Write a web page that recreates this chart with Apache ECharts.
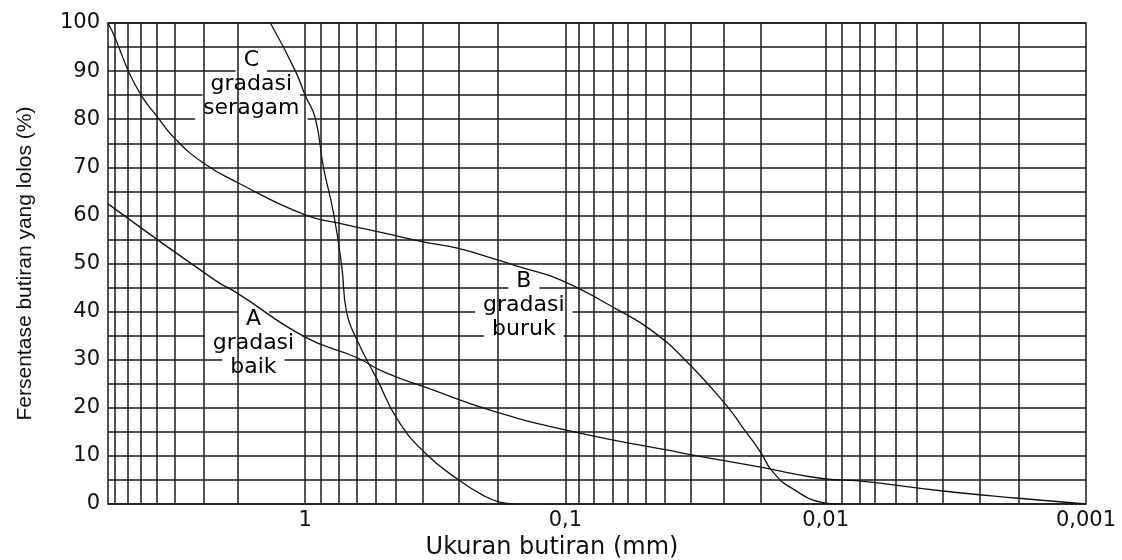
<!DOCTYPE html>
<html>
<head>
<meta charset="utf-8">
<script src="https://cdn.jsdelivr.net/npm/echarts@6/dist/echarts.min.js"></script>
<style>
  html, body { margin: 0; padding: 0; background: #fff; }
  #main { width: 1122px; height: 560px; }
</style>
</head>
<body>
<div id="main"></div>
<script>
// grain size in mm, percent passing
var sizeA = [5.72, 2.23, 1.83, 1.0, 0.632, 0.496, 0.346, 0.184, 0.0926, 0.0355, 0.018, 0.01, 0.00744, 0.00354, 0.00182, 0.001];
var pctA  = [62.4, 46.6, 43.9, 34.7, 30.4, 27.4, 24.3, 19.1, 15.0, 10.6, 7.7, 5.2, 4.8, 2.7, 1.2, 0];

var sizeB = [5.72, 5.37, 4.74, 4.22, 3.75, 3.13, 2.46, 1.83, 1.0, 0.743, 0.496, 0.352, 0.26, 0.181, 0.15, 0.1046, 0.0626, 0.047, 0.0346, 0.0238, 0.0209, 0.0177, 0.0162, 0.0137, 0.01, 0.0089];
var pctB  = [100, 96.9, 89.6, 84.6, 80.9, 75.7, 70.9, 66.9, 60.1, 58.4, 56.3, 54.5, 53.2, 50.7, 49.3, 46.6, 40.3, 36.2, 29.9, 20.2, 16.0, 10.6, 7.1, 3.5, 0.2, 0];

var sizeC = [1.36, 1.094, 1.0, 0.914, 0.851, 0.778, 0.723, 0.692, 0.632, 0.528, 0.441, 0.346, 0.257, 0.202, 0.179, 0.158];
var pctC  = [100, 90.2, 85.0, 80.2, 70.1, 60.5, 49.3, 39.7, 34.1, 25.8, 17.5, 10.6, 5.0, 1.5, 0.4, 0];

var tickSizes  = [1, 0.1, 0.01, 0.001];
var tickLabels = ['1', '0,1', '0,01', '0,001'];

// vertical grid lines (mm)
var gridSizes = [5.37, 4.74, 4.22, 3.75, 3.13, 2.46, 1.83, 1,
  0.866, 0.743, 0.638, 0.533, 0.445, 0.352, 0.26, 0.181, 0.1,
  0.0888, 0.0769, 0.0665, 0.0581, 0.049, 0.0413, 0.0331, 0.0248, 0.0177, 0.01,
  0.00866, 0.00738, 0.00639, 0.00534, 0.00447, 0.00354, 0.00258, 0.00182];

var xLeft = 5.72, xRight = 0.001;

// curve labels: [size, percent, text lines]
var noteA = [1.58, 33.5, ['A', 'gradasi', 'baik']];
var noteB = [0.1445, 41.4, ['B', 'gradasi', 'buruk']];
var noteC = [1.61, 87.3, ['C', 'gradasi', 'seragam']];

function pts(xs, ys) {
  return xs.map(function (s, i) { return [Math.log10(s), ys[i]]; });
}

var lineColor = '#1a1a1a';
var font = 'DejaVu Sans';

function note(n) {
  return {
    value: [Math.log10(n[0]), n[1]],
    label: {
      formatter: '{t|' + n[2][0] + '}\n{t|' + n[2][1] + '}\n{t|' + n[2][2] + '}'
    }
  };
}

var chartDom = document.getElementById('main');
var myChart = echarts.init(chartDom);
var option;

option = {
  animation: false,
  grid: {
    left: 108, right: 36, top: 23, bottom: 56,
    outerBoundsMode: 'none',
    containLabel: false,
    show: true,
    borderColor: lineColor,
    borderWidth: 1.5
  },
  xAxis: {
    type: 'value',
    inverse: true,
    min: Math.log10(xRight),
    max: Math.log10(xLeft),
    name: 'Ukuran butiran (mm)',
    nameLocation: 'middle',
    nameGap: 31,
    nameTextStyle: { fontFamily: font, fontSize: 24, color: '#111', padding: [0, 90, 0, 0] },
    axisLine: { show: false },
    axisTick: { show: false },
    splitLine: { show: false },
    axisLabel: {
      customValues: tickSizes.map(Math.log10),
      fontFamily: font, fontSize: 21, color: '#111', margin: 6,
      formatter: function (v) {
        for (var i = 0; i < tickSizes.length; i++) {
          if (Math.abs(Math.log10(tickSizes[i]) - v) < 1e-6) return tickLabels[i];
        }
        return '';
      }
    }
  },
  yAxis: {
    type: 'value',
    min: 0, max: 100, interval: 5,
    name: 'Fersentase butiran yang lolos (%)',
    nameLocation: 'middle',
    nameGap: 72,
    nameTextStyle: { fontFamily: 'Liberation Sans', fontSize: 21, color: '#111' },
    axisLine: { show: false },
    axisTick: { show: false },
    splitLine: { lineStyle: { color: lineColor, width: 1.5 } },
    axisLabel: {
      fontFamily: font, fontSize: 21, color: '#111', margin: 8,
      formatter: function (v) { return v % 10 === 0 ? String(v) : ''; }
    }
  },
  series: [
    {
      name: 'grid',
      type: 'scatter',
      data: [[Math.log10(xRight), 0]],
      symbolSize: 0,
      z: 1,
      silent: true,
      markLine: {
        silent: true,
        symbol: 'none',
        label: { show: false },
        lineStyle: { type: 'solid', color: lineColor, width: 1.5 },
        data: gridSizes.map(function (s) { return { xAxis: Math.log10(s) }; })
      }
    },
    {
      name: 'notes',
      type: 'scatter',
      z: 2,
      symbolSize: 0,
      silent: true,
      itemStyle: { opacity: 1 },
      label: {
        show: true,
        position: 'inside',
        color: '#000',
        rich: {
          t: {
            fontFamily: font, fontSize: 22, color: '#000',
            backgroundColor: '#fff', padding: [1, 8], lineHeight: 24
          }
        }
      },
      data: [note(noteA), note(noteB), note(noteC)]
    },
    {
      name: 'A', type: 'line', z: 3, data: pts(sizeA, pctA),
      showSymbol: false, smooth: 0.5,
      lineStyle: { color: '#111', width: 1.3 }
    },
    {
      name: 'B', type: 'line', z: 3, data: pts(sizeB, pctB),
      showSymbol: false, smooth: 0.5,
      lineStyle: { color: '#111', width: 1.3 }
    },
    {
      name: 'C', type: 'line', z: 3, data: pts(sizeC, pctC),
      showSymbol: false, smooth: 0.5,
      lineStyle: { color: '#111', width: 1.3 }
    }
  ]
};
option && myChart.setOption(option);
</script>
</body>
</html>
